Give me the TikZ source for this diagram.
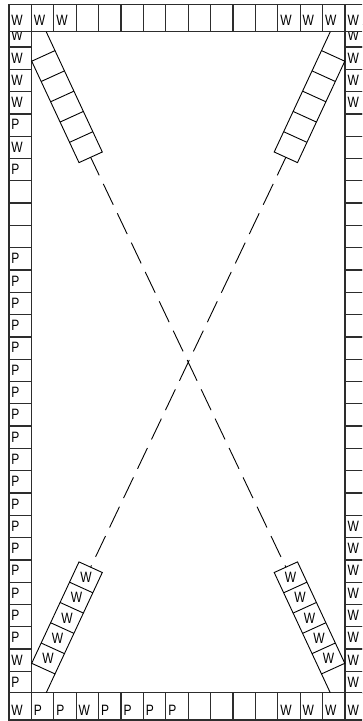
\documentclass[tikz,border=0pt]{standalone}
\usepackage{fontspec}
\usetikzlibrary{calc}
\newfontfamily\cellfont[FakeStretch=0.8]{Liberation Sans}

\begin{document}
\begin{tikzpicture}[x=1pt,y=-1pt]
    \definecolor{wallc}{RGB}{45,45,45}
    \tikzset{
      wallcell/.style={draw=wallc, line width=1.3pt, fill=white},
      celltext/.style={anchor=west, inner sep=0pt, font=\cellfont\fontsize{15}{15}\selectfont},
      laddertext/.style={inner sep=0pt, font=\cellfont\fontsize{15}{15}\selectfont},
      rail/.style={draw=black, line width=0.9pt},
      beam/.style={draw=black, line width=0.9pt, dash pattern=on 23pt off 9.5pt, dash phase=3pt}
    }

    \useasboundingbox (0,0) rectangle (362,721);
    \clip (0,0) rectangle (362,721);

    % side columns
    \foreach \t [count=\i from 0] in {W,W,W,W,P,W,P,-,-,-,P,P,P,P,P,P,P,P,P,P,P,P,P,P,P,P,P,P,W,P} {
      \draw[wallcell] (9,24.7+22.3*\i) rectangle (31.5,47+22.3*\i);
      \if\t-\else \node[celltext] (left\i) at (11.3,35.6+22.3*\i) {\t}; \fi
    }
    \foreach \t [count=\i from 0] in {W,W,W,W,-,-,-,-,-,-,-,-,-,-,-,-,-,-,-,-,-,-,W,W,W,W,W,W,W,W} {
      \draw[wallcell] (345,24.7+22.3*\i) rectangle (367.5,47+22.3*\i);
      \if\t-\else \node[celltext] (right\i) at (347.3,35.6+22.3*\i) {\t}; \fi
    }

    % top and bottom rows
    \foreach \t [count=\i from 0] in {W,W,W,-,-,-,-,-,-,-,-,-,W,W,W,W} {
      \draw[wallcell] (9+22.4*\i,4.5) rectangle (31.4+22.4*\i,31.7);
      \if\t-\else \node[celltext] (top\i) at (11.3+22.4*\i,20.3) {\t}; \fi
    }
    \foreach \t [count=\i from 0] in {W,P,P,W,P,P,P,P,-,-,-,-,W,W,W,W} {
      \draw[wallcell] (9+22.4*\i,692.8) rectangle (31.4+22.4*\i,720);
      \if\t-\else \node[celltext] (bottom\i) at (11.3+22.4*\i,710) {\t}; \fi
    }

    % ladders
    \coordinate (tla) at (31.7,61.2);   \coordinate (tlb) at (55,50.6);
    \coordinate (tlc) at (79,162.6);    \coordinate (tld) at (102.3,152);
    \coordinate (tle) at (46.2,31.7);
    \coordinate (tra) at (344.8,61.2);  \coordinate (trb) at (321.5,50.6);
    \coordinate (trc) at (297.5,162.6); \coordinate (trd) at (274.2,152);
    \coordinate (tre) at (330.3,31.7);
    \coordinate (bla) at (31.7,663.3);  \coordinate (blb) at (55,673.9);
    \coordinate (blc) at (79,561.9);    \coordinate (bld) at (102.3,572.5);
    \coordinate (ble) at (46.2,692.8);
    \coordinate (bra) at (344.8,663.3); \coordinate (brb) at (321.5,673.9);
    \coordinate (brc) at (297.5,561.9); \coordinate (brd) at (274.2,572.5);
    \coordinate (bre) at (330.3,692.8);

    \foreach \n in {tl,tr,bl,br} {
      \coordinate (\n w) at ($(\n a)!0.5!(\n b)$);
      \coordinate (\n m) at ($(\n c)!0.5!(\n d)$);
      \draw[rail] (\n e) -- (\n b);
      \draw[rail] (\n a) -- (\n b) -- (\n d) -- (\n c) -- cycle;
      \foreach \k in {1,...,4}
        \draw[rail] ($(\n a)!{\k/5}!(\n c)$) -- ($(\n b)!{\k/5}!(\n d)$);
    }
    \foreach \n in {bl,br}
      \foreach \k in {1,...,5}
        \node[laddertext] (\n w\k) at ($(\n w)!{(\k-0.5)/5}!(\n m)$) {W};

    \draw[beam] (tlm) -- (brm);
    \draw[beam] (trm) -- (blm);
\end{tikzpicture}
\end{document}
